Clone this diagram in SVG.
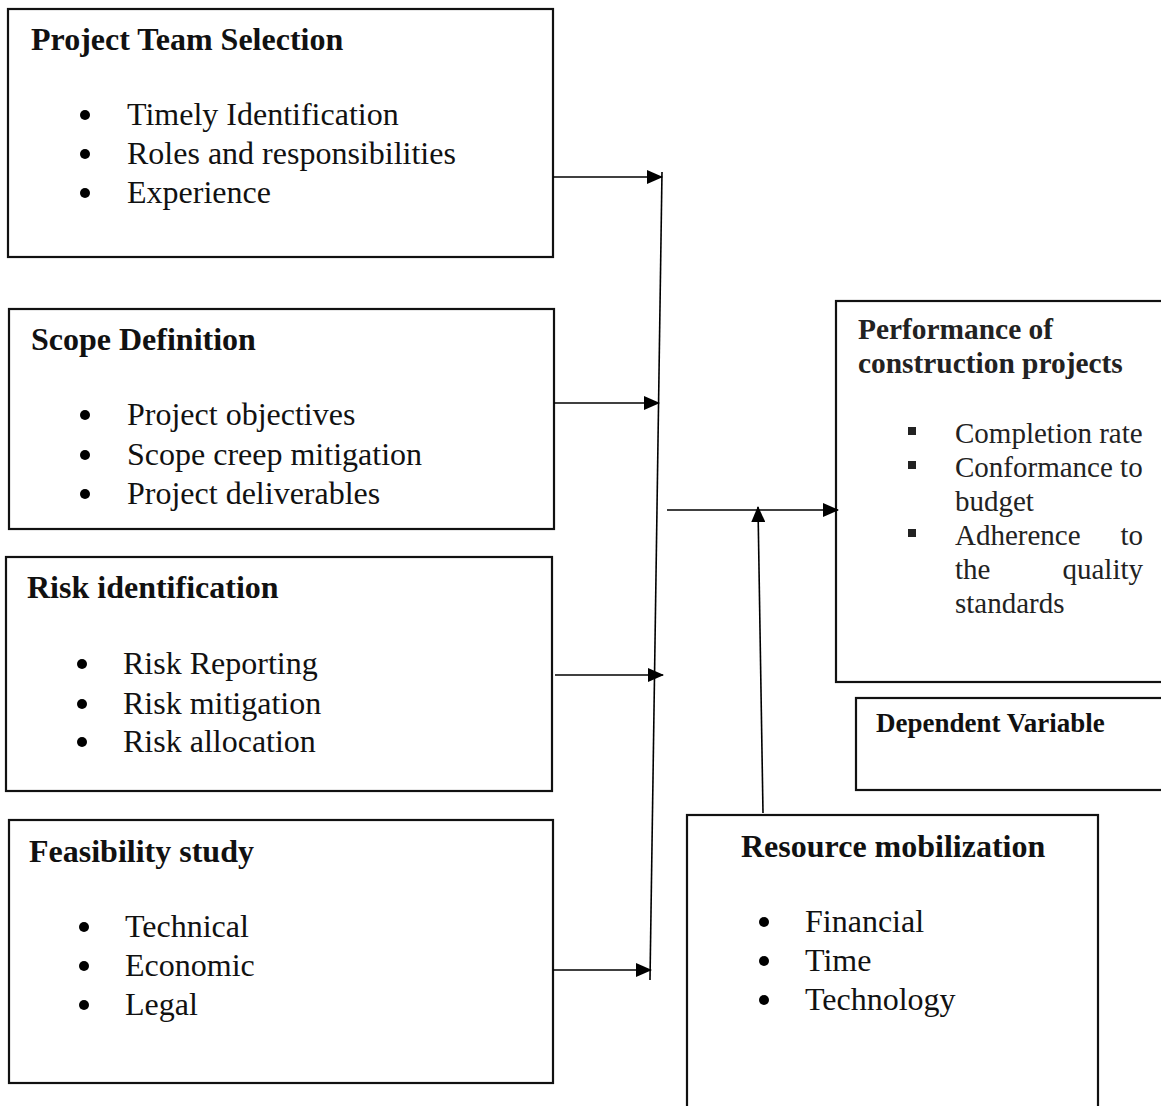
<svg xmlns="http://www.w3.org/2000/svg" width="1161" height="1106" viewBox="0 0 1161 1106">
<style>
  .box { fill: #fff; stroke: #111; stroke-width: 2.2; }
  .title { font-family: "Liberation Serif", "Times New Roman", serif; font-weight: bold; font-size: 32px; fill: #111; }
  .item { font-family: "Liberation Serif", "Times New Roman", serif; font-size: 32px; fill: #111; }
  .ritem { font-family: "Liberation Serif", "Times New Roman", serif; font-size: 29px; fill: #222; }
  .rtitle { font-family: "Liberation Serif", "Times New Roman", serif; font-weight: bold; font-size: 29.4px; fill: #222; }
  .dv { font-family: "Liberation Serif", "Times New Roman", serif; font-weight: bold; font-size: 27px; fill: #111; }
  .dot { fill: #000; }
  .conn { stroke: #000; stroke-width: 1.6; fill: none; }
</style>
<defs>
  <marker id="arr" markerUnits="userSpaceOnUse" markerWidth="16" markerHeight="14" refX="15" refY="7" orient="auto">
    <path d="M0,0 L16,7 L0,14 Z" fill="#000"/>
  </marker>
</defs>
<rect width="1161" height="1106" fill="#fff"/>

<g id="team">
  <rect class="box" x="8" y="9" width="545" height="248"/>
  <text class="title" x="31" y="50">Project Team Selection</text>
  <circle class="dot" cx="85" cy="115" r="5"/>
  <circle class="dot" cx="85" cy="154" r="5"/>
  <circle class="dot" cx="85" cy="193" r="5"/>
  <text class="item" x="127" y="125">Timely Identification</text>
  <text class="item" x="127" y="164">Roles and responsibilities</text>
  <text class="item" x="127" y="203">Experience</text>
</g>

<g id="scope">
  <rect class="box" x="9" y="309" width="545" height="220"/>
  <text class="title" x="31" y="350">Scope Definition</text>
  <circle class="dot" cx="85" cy="415" r="5"/>
  <circle class="dot" cx="85" cy="455" r="5"/>
  <circle class="dot" cx="85" cy="494" r="5"/>
  <text class="item" x="127" y="425">Project objectives</text>
  <text class="item" x="127" y="465">Scope creep mitigation</text>
  <text class="item" x="127" y="504">Project deliverables</text>
</g>

<g id="risk">
  <rect class="box" x="6" y="557" width="546" height="234"/>
  <text class="title" x="27" y="598">Risk identification</text>
  <circle class="dot" cx="82" cy="664" r="5"/>
  <circle class="dot" cx="82" cy="704" r="5"/>
  <circle class="dot" cx="82" cy="742" r="5"/>
  <text class="item" x="123" y="674">Risk Reporting</text>
  <text class="item" x="123" y="714">Risk mitigation</text>
  <text class="item" x="123" y="752">Risk allocation</text>
</g>

<g id="feasibility">
  <rect class="box" x="9" y="820" width="544" height="263"/>
  <text class="title" x="29" y="862">Feasibility study</text>
  <circle class="dot" cx="84" cy="927" r="5"/>
  <circle class="dot" cx="84" cy="966" r="5"/>
  <circle class="dot" cx="84" cy="1005" r="5" fill="#333"/>
  <text class="item" x="125" y="937">Technical</text>
  <text class="item" x="125" y="976">Economic</text>
  <text class="item" x="125" y="1015">Legal</text>
</g>

<g id="performance">
  <rect class="box" x="836" y="301" width="340" height="381"/>
  <text class="rtitle" x="858" y="339">Performance of</text>
  <text class="rtitle" x="858" y="373">construction projects</text>
  <rect x="908" y="427" width="8" height="8" fill="#222"/>
  <rect x="908" y="461" width="8" height="8" fill="#222"/>
  <rect x="908" y="529" width="8" height="8" fill="#222"/>
  <text class="ritem" x="955" y="443">Completion rate</text>
  <text class="ritem" x="955" y="477">Conformance to</text>
  <text class="ritem" x="955" y="511">budget</text>
  <text class="ritem" x="955" y="545">Adherence</text>
  <text class="ritem" x="1143" y="545" text-anchor="end">to</text>
  <text class="ritem" x="955" y="579">the</text>
  <text class="ritem" x="1143" y="579" text-anchor="end">quality</text>
  <text class="ritem" x="955" y="613">standards</text>
</g>

<g id="dependent">
  <rect class="box" x="856" y="698" width="320" height="92"/>
  <text class="dv" x="876" y="732">Dependent Variable</text>
</g>

<g id="resource">
  <rect class="box" x="687" y="815" width="411" height="310"/>
  <text class="title" x="741" y="857">Resource mobilization</text>
  <circle class="dot" cx="764" cy="922" r="5"/>
  <circle class="dot" cx="764" cy="961" r="5"/>
  <circle class="dot" cx="764" cy="1000" r="5"/>
  <text class="item" x="805" y="932">Financial</text>
  <text class="item" x="805" y="971">Time</text>
  <text class="item" x="805" y="1010">Technology</text>
</g>

<g id="connectors">
  <line class="conn" x1="662" y1="172" x2="650" y2="980"/>
  <line class="conn" x1="553" y1="177" x2="662" y2="177" marker-end="url(#arr)"/>
  <line class="conn" x1="554" y1="403" x2="659" y2="403" marker-end="url(#arr)"/>
  <line class="conn" x1="555" y1="675" x2="663" y2="675" marker-end="url(#arr)"/>
  <line class="conn" x1="553" y1="970" x2="651" y2="970" marker-end="url(#arr)"/>
  <line class="conn" x1="667" y1="510" x2="838" y2="510" marker-end="url(#arr)"/>
  <line class="conn" x1="763" y1="813" x2="758" y2="507" marker-end="url(#arr)"/>
</g>
</svg>
